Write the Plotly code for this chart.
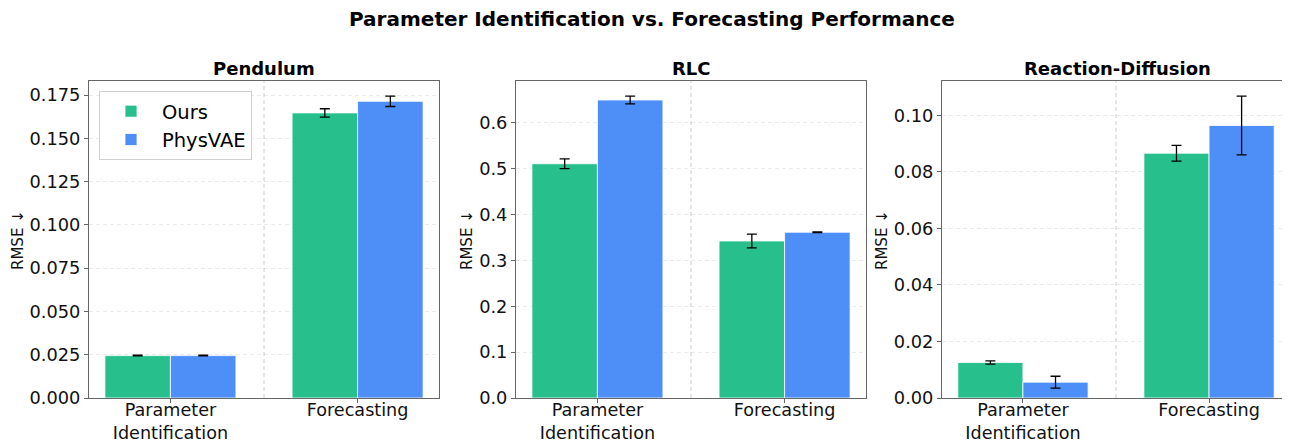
import plotly.graph_objects as go

# browser body margin of 8px shifts the figure; compensate
OFF = 8
SW, SH = 1290, 442
W, H = SW - OFF, SH - OFF

categories = ["Parameter<br>Identification", "Forecasting"]
panels = ["Pendulum", "RLC", "Reaction-Diffusion"]

pend_ours = [0.0245, 0.1648]
pend_ours_err = [0.0002, 0.0024]
pend_phys = [0.0245, 0.1715]
pend_phys_err = [0.0002, 0.0030]

rlc_ours = [0.511, 0.3425]
rlc_ours_err = [0.0105, 0.0150]
rlc_phys = [0.650, 0.3615]
rlc_phys_err = [0.0085, 0.0008]

rd_ours = [0.01255, 0.0866]
rd_ours_err = [0.0006, 0.0028]
rd_phys = [0.0056, 0.0964]
rd_phys_err = [0.0021, 0.0104]

tick_vals = [
    [0.0, 0.025, 0.05, 0.075, 0.1, 0.125, 0.15, 0.175],
    [0.0, 0.1, 0.2, 0.3, 0.4, 0.5, 0.6],
    [0.0, 0.02, 0.04, 0.06, 0.08, 0.10],
]
tick_fmt = [".3f", ".1f", ".2f"]

series_names = ["Ours", "PhysVAE"]
colors = ["rgba(16,185,129,0.9)", "rgba(59,130,246,0.9)"]

data = [
    (pend_ours, pend_ours_err, pend_phys, pend_phys_err),
    (rlc_ours, rlc_ours_err, rlc_phys, rlc_phys_err),
    (rd_ours, rd_ours_err, rd_phys, rd_phys_err),
]

# screen-pixel geometry of the axes
x_px = [(89, 439), (516, 866), (942, 1290)]
y_top, y_bot = 81, 398
FONT = "DejaVu Sans"


def px(x):
    return (x - OFF) / W


def py(y):
    return 1 - (y - OFF) / H


fig = go.Figure()
layout = {}
for i, (o, oe, p, pe) in enumerate(data):
    ax = "" if i == 0 else str(i + 1)
    xref, yref = "x" + ax, "y" + ax
    for j, (vals, errs) in enumerate([(o, oe), (p, pe)]):
        fig.add_trace(go.Bar(
            x=categories, y=vals, name=series_names[j],
            marker=dict(color=colors[j], line=dict(color="white", width=0.8)),
            error_y=dict(type="data", array=errs, visible=True, color="black",
                         thickness=1.3, width=5),
            xaxis=xref, yaxis=yref, showlegend=(i == 0),
            offsetgroup=str(j),
        ))
    ymax = max(max(v + e for v, e in zip(o, oe)), max(v + e for v, e in zip(p, pe))) * 1.05
    x0, x1 = x_px[i]
    layout["xaxis" + ax] = dict(
        domain=[px(x0), min(1.0, px(x1))], anchor=yref, type="category",
        range=[-0.435, 1.435], showline=True, mirror=True, linecolor="#666",
        linewidth=1, ticks="outside", ticklen=4, tickcolor="#666",
        tickfont=dict(family=FONT, size=17.6, color="#111"), showgrid=False,
        zeroline=False, automargin=False, ticklabelstandoff=-8,
    )
    layout["yaxis" + ax] = dict(
        domain=[py(y_bot), py(y_top)], anchor=xref,
        range=[0, ymax], tickvals=tick_vals[i], tickformat=tick_fmt[i],
        showline=True, mirror=True, linecolor="#666", linewidth=1,
        ticks="outside", ticklen=4, tickcolor="#666",
        tickfont=dict(family=FONT, size=17.8, color="#111"),
        showgrid=True, gridcolor="rgba(0,0,0,0.08)", griddash="4px,3px", gridwidth=1,
        zeroline=False, automargin=False,
    )

shapes = []
annotations = []
ylab_x = [18, 467, 882]
for i in range(3):
    ax = "" if i == 0 else str(i + 1)
    shapes.append(dict(type="line", xref="x" + ax, yref="y" + ax + " domain",
                       x0=0.5, x1=0.5, y0=0, y1=1,
                       line=dict(color="#cccccc", width=1, dash="4px,3px"), layer="below"))
    x0 = x_px[i][0]
    cx = x0 + 175
    annotations.append(dict(text="<b>" + panels[i] + "</b>", x=px(cx), y=py(68),
                            xref="paper", yref="paper", showarrow=False,
                            font=dict(family=FONT, size=18, color="black"),
                            xanchor="center", yanchor="middle"))
    annotations.append(dict(text="RMSE ↓", x=px(ylab_x[i]), y=py(240),
                            xref="paper", yref="paper", showarrow=False, textangle=-90,
                            font=dict(family=FONT, size=15, color="#111"),
                            xanchor="center", yanchor="middle"))
annotations.append(dict(text="<b>Parameter Identification vs. Forecasting Performance</b>",
                        x=px(652), y=py(19), xref="paper", yref="paper", showarrow=False,
                        font=dict(family=FONT, size=20, color="black"),
                        xanchor="center", yanchor="middle"))

fig.update_layout(
    width=W, height=H, margin=dict(l=0, r=0, t=0, b=0, autoexpand=False),
    paper_bgcolor="white", plot_bgcolor="white",
    barmode="group", bargap=0.3, bargroupgap=0,
    font=dict(family=FONT, color="black"),
    shapes=shapes, annotations=annotations,
    legend=dict(x=px(99), y=py(91), xanchor="left", yanchor="top",
                bordercolor="#d0d0d0", borderwidth=1, bgcolor="rgba(255,255,255,0.9)",
                font=dict(family=FONT, size=19.5, color="black"),
                itemwidth=52, tracegroupgap=4),
    **layout,
)

fig.write_html("out.html")
